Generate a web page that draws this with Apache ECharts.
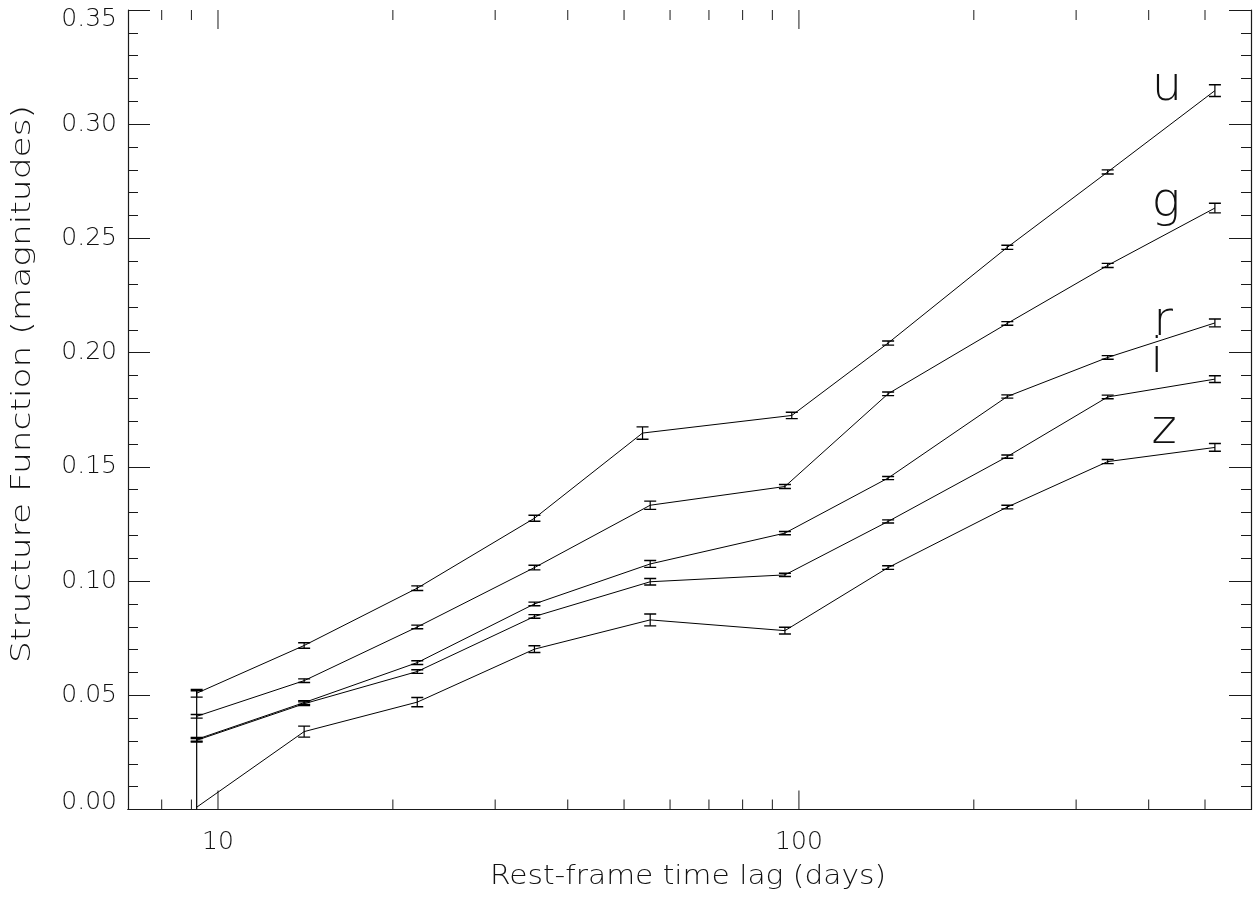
<!DOCTYPE html>
<html>
<head>
<meta charset="utf-8">
<script src="https://cdn.jsdelivr.net/npm/echarts@6/dist/echarts.min.js"></script>
<style>
html,body{margin:0;padding:0;background:#fff;}
#chart{width:1254px;height:898px;}
</style>
</head>
<body>
<div id="chart"></div>
<script>
// Rest-frame time lags (days)
const lagU = [9.19, 14.07, 22.03, 35.05, 53.8, 97.2, 142.4, 228.4, 340, 520];
const lagGRIZ = [9.19, 14.07, 22.03, 35.05, 55.46, 94.6, 142.4, 228.4, 340, 520];

// Structure function values (magnitudes)
const sfU = [0.0509, 0.0718, 0.0969, 0.1275, 0.1648, 0.1725, 0.2042, 0.2461, 0.2791, 0.3147];
const sfG = [0.0408, 0.0564, 0.0799, 0.1059, 0.1332, 0.1414, 0.1820, 0.2128, 0.2382, 0.2633];
const sfR = [0.0307, 0.0468, 0.0643, 0.0900, 0.1075, 0.1210, 0.1451, 0.1808, 0.1979, 0.2130];
const sfI = [0.0303, 0.0463, 0.0604, 0.0845, 0.0997, 0.1027, 0.1261, 0.1545, 0.1806, 0.1884];
const sfZ = [0.0010, 0.0341, 0.0470, 0.0702, 0.0830, 0.0783, 0.1059, 0.1324, 0.1523, 0.1585];

// Error bars (half-widths)
const errU = [0.0017, 0.0012, 0.0010, 0.0013, 0.0027, 0.0014, 0.0009, 0.0009, 0.0009, 0.0026];
const errG = [0.0008, 0.0008, 0.0008, 0.0010, 0.0018, 0.0009, 0.0008, 0.0008, 0.0009, 0.0021];
const errR = [0.0008, 0.0008, 0.0008, 0.0008, 0.0015, 0.0007, 0.0007, 0.0007, 0.0008, 0.0017];
const errI = [0.0008, 0.0008, 0.0008, 0.0008, 0.0014, 0.0007, 0.0007, 0.0007, 0.0008, 0.0015];
const errZ = [0.0510, 0.0024, 0.0020, 0.0015, 0.0026, 0.0015, 0.0008, 0.0008, 0.0009, 0.0017];

const bandNames = ['u', 'g', 'r', 'i', 'z'];

// Axis tick values / labels
const yTicks = ['0.00', '0.05', '0.10', '0.15', '0.20', '0.25', '0.30', '0.35'];
const xMajorLabels = [10, 100];
const xMinorTicks = [8, 9, 20, 30, 40, 50, 60, 70, 80, 90, 200, 300, 400, 500];
const xTitle = 'Rest-frame time lag (days)';
const yTitle = 'Structure Function (magnitudes)';

const FONT = 'DejaVu Sans';
const FW = 200;
const INK = '#000';
const AX = '#1a1a1a';

const bands = [
  { name: 'u', lag: lagU, sf: sfU, err: errU },
  { name: 'g', lag: lagGRIZ, sf: sfG, err: errG },
  { name: 'r', lag: lagGRIZ, sf: sfR, err: errR },
  { name: 'i', lag: lagGRIZ, sf: sfI, err: errI },
  { name: 'z', lag: lagGRIZ, sf: sfZ, err: errZ }
];

function errRender(params, api) {
  const x = api.value(0), y = api.value(1), e = api.value(2);
  const cs = params.coordSys;
  const top = api.coord([x, y + e]);
  const bot = api.coord([x, y - e]);
  const yBottom = cs.y + cs.height;
  const children = [];
  const by = Math.min(bot[1], yBottom);
  children.push({ type: 'line', shape: { x1: top[0], y1: top[1], x2: top[0], y2: by }, style: { stroke: INK, lineWidth: 1.2 } });
  children.push({ type: 'line', shape: { x1: top[0] - 6, y1: top[1], x2: top[0] + 6, y2: top[1] }, style: { stroke: INK, lineWidth: 1.4 } });
  if (bot[1] <= yBottom) {
    children.push({ type: 'line', shape: { x1: bot[0] - 6, y1: bot[1], x2: bot[0] + 6, y2: bot[1] }, style: { stroke: INK, lineWidth: 1.4 } });
  }
  return { type: 'group', children: children };
}

function tickRender(len) {
  return function (params, api) {
    const cs = params.coordSys;
    const p = api.coord([api.value(0), 0]);
    const yb = cs.y + cs.height, yt = cs.y;
    return { type: 'group', children: [
      { type: 'line', shape: { x1: p[0], y1: yb, x2: p[0], y2: yb - len }, style: { stroke: AX, lineWidth: 1 } },
      { type: 'line', shape: { x1: p[0], y1: yt, x2: p[0], y2: yt + len }, style: { stroke: AX, lineWidth: 1 } }
    ] };
  };
}

const series = [];
bands.forEach(function (b) {
  const pts = b.lag.map(function (l, k) { return [l, b.sf[k]]; });
  series.push({
    type: 'line', name: b.name, data: pts, symbol: 'none', silent: true,
    lineStyle: { color: INK, width: 1 }, clip: true, animation: false
  });
  series.push({
    type: 'custom', name: b.name + ' err', renderItem: errRender, silent: true, animation: false,
    data: b.lag.map(function (l, k) { return [l, b.sf[k], b.err[k]]; }), clip: true
  });
});
series.push({
  type: 'custom', name: 'minor ticks', renderItem: tickRender(10), silent: true, animation: false,
  data: xMinorTicks.map(function (v) { return [v, 0]; }), clip: false
});
series.push({
  type: 'custom', name: 'major ticks', renderItem: tickRender(19), silent: true, animation: false,
  data: xMajorLabels.map(function (v) { return [v, 0]; }), clip: false
});

// measure text to stretch titles to the reference's length
function textWidth(str, size) {
  const c = document.createElement('canvas').getContext('2d');
  c.font = FW + ' ' + size + 'px "' + FONT + '"';
  return c.measureText(str).width;
}
const TITLE_SIZE = 26;
const yTitleScale = 558 / textWidth(yTitle, TITLE_SIZE);
const xTitleScale = 396 / textWidth(xTitle, TITLE_SIZE);

const axisLineStyle = { color: AX, width: 1.2 };
const labelStyle = { fontFamily: FONT, fontWeight: FW, fontSize: 25, color: '#111' };
const bandStyle = { fontFamily: FONT, fontWeight: FW, fontSize: 48, fill: '#111', align: 'center', verticalAlign: 'bottom' };

const option = {
  backgroundColor: '#fff',
  animation: false,
  grid: { left: 128, right: 1, top: 10, bottom: 88.5, containLabel: false },
  xAxis: [
    {
      type: 'log', logBase: 10, min: 7, max: 600, position: 'bottom',
      axisLine: { show: true, lineStyle: axisLineStyle },
      axisTick: { show: false },
      axisLabel: Object.assign({
        show: true, margin: 20,
        formatter: function (v) {
          for (let k = 0; k < xMajorLabels.length; k++) {
            if (Math.abs(v - xMajorLabels[k]) < 0.01 * xMajorLabels[k]) return String(xMajorLabels[k]);
          }
          return '';
        }
      }, labelStyle),
      splitLine: { show: false }
    },
    {
      type: 'log', logBase: 10, min: 7, max: 600, position: 'top',
      axisLine: { show: true, lineStyle: axisLineStyle },
      axisTick: { show: false },
      axisLabel: { show: false },
      splitLine: { show: false }
    }
  ],
  yAxis: [
    {
      type: 'value', min: 0, max: 0.35, interval: 0.05, position: 'left',
      axisLine: { show: true, lineStyle: axisLineStyle },
      axisTick: { show: true, inside: true, length: 22, lineStyle: { color: AX } },
      minorTick: { show: true, splitNumber: 5, length: 10, lineStyle: { color: AX } },
      axisLabel: Object.assign({
        margin: 11,
        formatter: function (v) {
          const k = Math.round(v / 0.05);
          if (k === 0) return '{lo|' + yTicks[k] + '}';
          if (k === yTicks.length - 1) return '{hi|' + yTicks[k] + '}';
          return yTicks[k];
        },
        rich: {
          lo: { fontFamily: FONT, fontWeight: FW, fontSize: 25, color: '#111', padding: [0, 0, 14, 0] },
          hi: { fontFamily: FONT, fontWeight: FW, fontSize: 25, color: '#111', padding: [18, 0, 0, 0] }
        }
      }, labelStyle),
      splitLine: { show: false }
    },
    {
      type: 'value', min: 0, max: 0.35, interval: 0.05, position: 'right',
      axisLine: { show: true, lineStyle: axisLineStyle },
      axisTick: { show: true, inside: true, length: 22, lineStyle: { color: AX } },
      minorTick: { show: true, splitNumber: 5, length: 10, lineStyle: { color: AX } },
      axisLabel: { show: false },
      splitLine: { show: false }
    }
  ],
  graphic: [
    { type: 'text', x: 23, y: 384, rotation: Math.PI / 2, scaleX: yTitleScale,
      style: { text: yTitle, fontFamily: FONT, fontWeight: FW, fontSize: TITLE_SIZE, fill: '#111', align: 'center', verticalAlign: 'middle' } },
    { type: 'text', x: 688, y: 877, scaleX: xTitleScale,
      style: { text: xTitle, fontFamily: FONT, fontWeight: FW, fontSize: TITLE_SIZE, fill: '#111', align: 'center', verticalAlign: 'middle' } },
    { type: 'text', x: 1167, y: 112, style: Object.assign({ text: bandNames[0] }, bandStyle) },
    { type: 'text', x: 1166, y: 228, style: Object.assign({ text: bandNames[1] }, bandStyle) },
    { type: 'text', x: 1163, y: 347, style: Object.assign({ text: bandNames[2] }, bandStyle) },
    { type: 'text', x: 1157, y: 384, style: Object.assign({ text: bandNames[3] }, bandStyle) },
    { type: 'text', x: 1164, y: 455, style: Object.assign({ text: bandNames[4] }, bandStyle) }
  ],
  series: series
};

const chart = echarts.init(document.getElementById('chart'), null, { renderer: 'canvas' });
chart.setOption(option);
</script>
</body>
</html>
